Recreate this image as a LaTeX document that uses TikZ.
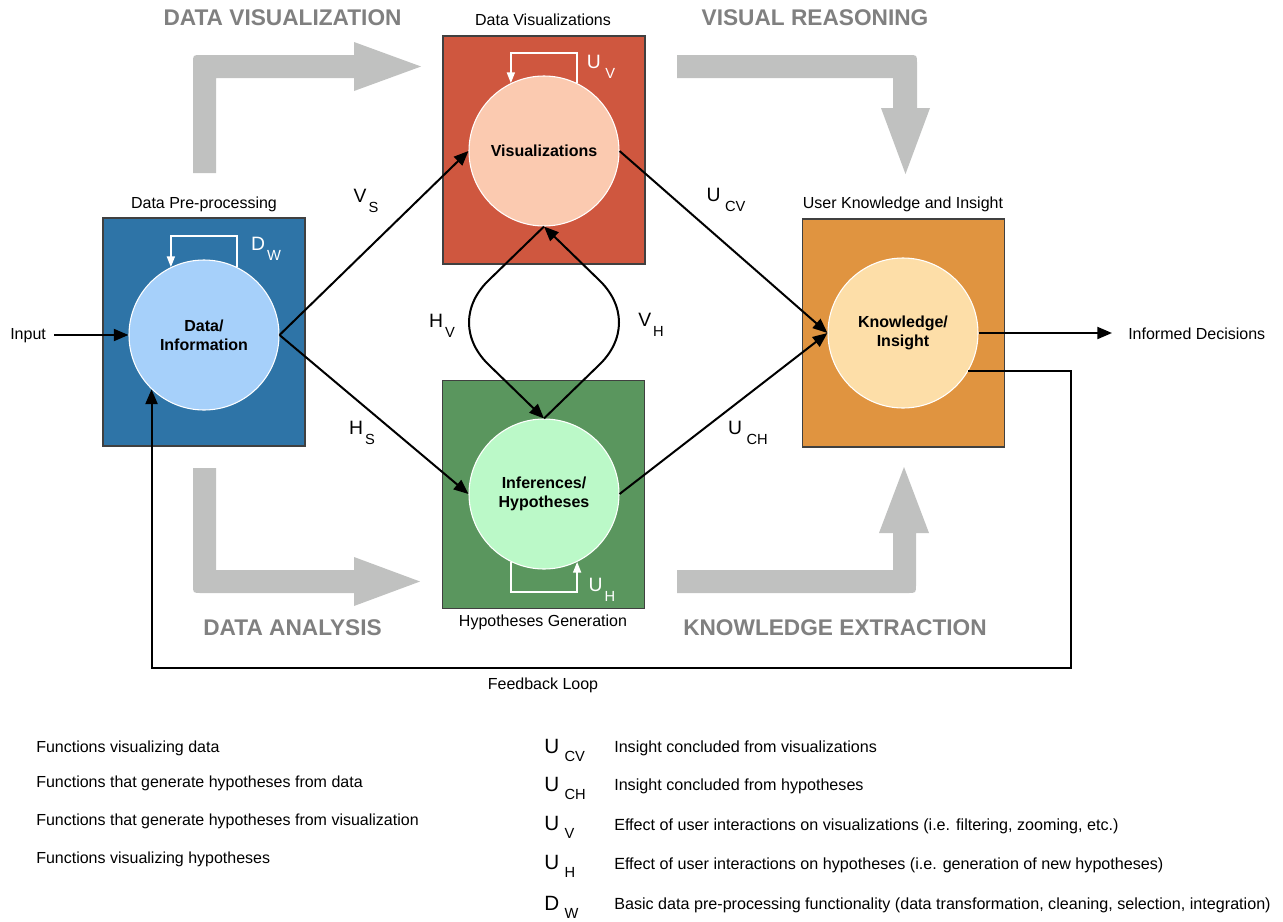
\documentclass[tikz,border=0pt]{standalone}
\usepackage{fontspec}
\setmainfont{Liberation Sans}
\usetikzlibrary{arrows.meta,calc}
\definecolor{bluebox}{RGB}{46,116,167}
\definecolor{bluecirc}{RGB}{166,208,250}
\definecolor{redbox}{RGB}{207,87,63}
\definecolor{redcirc}{RGB}{251,202,176}
\definecolor{greenbox}{RGB}{90,150,94}
\definecolor{greencirc}{RGB}{187,249,200}
\definecolor{orangebox}{RGB}{224,148,64}
\definecolor{orangecirc}{RGB}{253,222,168}
\definecolor{greyarrow}{RGB}{192,193,192}
\definecolor{greytext}{RGB}{128,128,128}
\newcommand{\symb}[2]{{\fontsize{14.5}{16}\selectfont #1}\hspace{1.5pt}\raisebox{-7pt}{\fontsize{11}{12}\selectfont #2}}
\newcommand{\lsym}[2]{{\fontsize{15.5}{17}\selectfont #1}\hspace{4pt}\raisebox{-6pt}{\fontsize{11}{12}\selectfont #2}}
\begin{document}
\begin{tikzpicture}[x=0.75pt,y=-0.75pt,
  box/.style={draw=black!75,line width=0.9pt,minimum width=151.5pt,minimum height=171pt,inner sep=0pt},
  circ/.style={circle,draw=white,line width=0.8pt,minimum size=112.5pt,inner sep=0pt,align=center,font=\bfseries\fontsize{12}{14.5}\selectfont},
  ttl/.style={font=\fontsize{12}{14}\selectfont,inner sep=0pt},
  conn/.style={line width=1.5pt,-{Triangle[length=11pt,width=9pt]}},
  wloop/.style={white,line width=1.1pt,-{Triangle[length=8pt,width=6pt]}},
  big/.style={font=\bfseries\fontsize{17}{19}\selectfont,text=greytext,inner sep=0pt},
  lbl/.style={inner sep=0pt},
  leg/.style={font=\fontsize{12}{14}\selectfont,inner sep=0pt,anchor=base west},
  legr/.style={font=\fontsize{12.1}{14}\selectfont,inner sep=0pt,anchor=base west},
  legsym/.style={inner sep=0pt,anchor=base west},
  garrow/.style={fill=greyarrow}
]
\useasboundingbox[fill=white] (0,0) rectangle (1283,922);

% grey process arrows
\fill[garrow] (193,173) -- (193,63) .. controls (193,55) .. (201,55) -- (354,55) -- (354,42) -- (421,66.5) -- (354,91) -- (354,78) -- (216,78) -- (216,173) -- cycle;
\fill[garrow] (677,55) -- (909,55) .. controls (917,55) .. (917,63) -- (917,108) -- (930,108) -- (905.5,174) -- (881,108) -- (893,108) -- (893,78) -- (677,78) -- cycle;
\fill[garrow] (193,468) -- (193,585) .. controls (193,593) .. (201,593) -- (354,593) -- (354,606) -- (420,581.5) -- (354,557) -- (354,570) -- (216,570) -- (216,468) -- cycle;
\fill[garrow] (677,570) -- (893,570) -- (893,533) -- (879,533) -- (904,467) -- (929,533) -- (916,533) -- (916,585) .. controls (916,593) .. (908,593) -- (677,593) -- cycle;

\node[big] (tdv) at (282.5,18) {DATA VISUALIZATION};
\node[big] (tvr) at (815,18) {VISUAL REASONING};
\node[big] (tda) at (292.5,628) {DATA ANALYSIS};
\node[big] (tke) at (835,628) {KNOWLEDGE EXTRACTION};

% boxes
\node[box,fill=bluebox] (bdata) at (204,332) {};
\node[box,fill=redbox] (bvis) at (544,150) {};
\node[box,fill=greenbox] (binf) at (543.5,494.5) {};
\node[box,fill=orangebox] (bknow) at (903.5,333) {};

\node[ttl] (tbdata) at (204,204) {Data Pre-processing};
\node[ttl] (tbvis) at (543,20) {Data Visualizations};
\node[ttl] (tbinf) at (543,622) {Hypotheses Generation};
\node[ttl] (tbknow) at (903,204) {User Knowledge and Insight};

% circles
\node[circ,fill=bluecirc] (data) at (204,335) {Data/\\Information};
\node[circ,fill=redcirc] (vis) at (544,151) {Visualizations};
\node[circ,fill=greencirc] (inf) at (544,494) {Inferences/\\Hypotheses};
\node[circ,fill=orangecirc] (know) at (903,333) {Knowledge/\\Insight};

% input / output
\node[leg] (input) at (10,339) {Input};
\draw[conn,shorten <=6pt] (input.east |- data.west) -- (data.west);
\node[leg] (dec) at (1128,339) {Informed Decisions};
\draw[conn,shorten >=12pt] (know.east) -- (know.east -| dec.west);

% connectors
\draw[conn] (data.east) -- (vis.west);
\draw[conn] (data.east) -- (inf.west);
\draw[conn] (vis.east) -- (know.west);
\draw[conn] (inf.east) -- (know.west);
\draw[conn] (vis.south) -- (490,279) .. controls (462,305) and (462,340) .. (490,366) -- (inf.north);
\draw[conn] (inf.north) -- (598,366) .. controls (626,340) and (626,305) .. (598,279) -- (vis.south);

% feedback loop
\coordinate (fbc) at (1071,668);
\draw[conn] (know.-30) -| (fbc) -| (data.226);
\node[ttl] (tfb) at (543,685) {Feedback Loop};

% white self loops
\coordinate (dwt) at (0,236);
\draw[wloop] (data.64) -- (data.64 |- dwt) -- (data.116 |- dwt) -- (data.116);
\coordinate (uvt) at (0,53);
\draw[wloop] (vis.64) -- (vis.64 |- uvt) -- (vis.116 |- uvt) -- (vis.116);
\coordinate (uhb) at (0,592);
\draw[wloop] (inf.-116) -- (inf.-116 |- uhb) -- (inf.-64 |- uhb) -- (inf.-64);

% labels
\node[lbl] (lvs) at (366,201) {\symb{V}{S}};
\node[lbl] (lhs) at (362,433) {\symb{H}{S}};
\node[lbl] (lucv) at (726,200) {\symb{U}{\,CV}};
\node[lbl] (luch) at (748,433) {\symb{U}{\,CH}};
\node[lbl] (lhv) at (442,326) {\symb{H}{V}};
\node[lbl] (lvh) at (651,325) {\symb{V}{H}};
\node[lbl,text=white] (ldw) at (266,249) {\symb{D}{W}};
\node[lbl,text=white] (luv) at (601,67) {\symb{U}{\,V}};
\node[lbl,text=white] (luh) at (602,590) {\symb{U}{H}};

% legend left
\node[leg] (l1) at (36,752) {Functions visualizing data};
\node[leg] (l2) at (36,787) {Functions that generate hypotheses from data};
\node[leg] (l3) at (36,825) {Functions that generate hypotheses from visualization};
\node[leg] (l4) at (36,863) {Functions visualizing hypotheses};

% legend right
\node[legsym] (s1) at (544,753) {\lsym{U}{CV}};
\node[legsym] (s2) at (544,791) {\lsym{U}{CH}};
\node[legsym] (s3) at (544,830) {\lsym{U}{V}};
\node[legsym] (s4) at (544,869) {\lsym{U}{H}};
\node[legsym] (s5) at (544,910) {\lsym{D}{W}};
\node[legr] (r1) at (614,752) {Insight concluded from visualizations};
\node[legr] (r2) at (614,790) {Insight concluded from hypotheses};
\node[legr] (r3) at (614,830) {Effect of user interactions on visualizations (i.e. filtering, zooming, etc.)};
\node[legr] (r4) at (614,869) {Effect of user interactions on hypotheses (i.e. generation of new hypotheses)};
\node[legr] (r5) at (614,909) {Basic data pre-processing functionality (data transformation, cleaning, selection, integration)};
\end{tikzpicture}
\end{document}
